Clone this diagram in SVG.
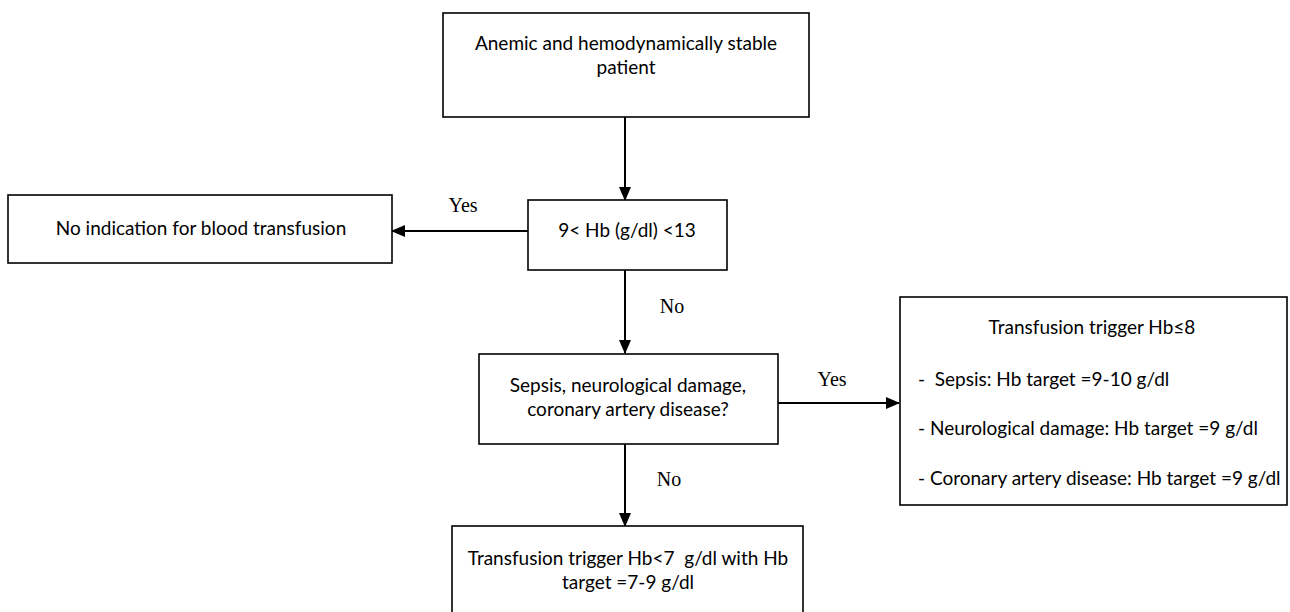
<svg xmlns="http://www.w3.org/2000/svg" width="1290" height="612" viewBox="0 0 1290 612">
<style>
.box{fill:#fff;stroke:#000;stroke-width:1.6}
.t{font-family:"Lato","Liberation Sans",sans-serif;font-size:19px;fill:#000;white-space:pre}
.c{text-anchor:middle}
.lbl{font-family:"Liberation Serif",serif;font-size:20px;fill:#000;text-anchor:middle}
.con{stroke:#000;stroke-width:2;fill:none}
</style>
<defs>
<marker id="ah" markerWidth="14" markerHeight="12" refX="13" refY="6" orient="auto" markerUnits="userSpaceOnUse">
<path d="M0,0 L14,6 L0,12 Z" fill="#000"/>
</marker>
</defs>
<rect width="1290" height="612" fill="#fff"/>
<g id="connectors">
<line class="con" x1="625" y1="117" x2="625" y2="200" marker-end="url(#ah)"/>
<line class="con" x1="528" y1="231" x2="392" y2="231" marker-end="url(#ah)"/>
<line class="con" x1="625" y1="270" x2="625" y2="353" marker-end="url(#ah)"/>
<line class="con" x1="778" y1="403" x2="899" y2="403" marker-end="url(#ah)"/>
<line class="con" x1="625" y1="444" x2="625" y2="526" marker-end="url(#ah)"/>
<text class="lbl" x="463" y="212">Yes</text>
<text class="lbl" x="672" y="313">No</text>
<text class="lbl" x="832" y="386">Yes</text>
<text class="lbl" x="669" y="486">No</text>
</g>
<g id="n1">
<rect class="box" x="443" y="13" width="366" height="104"/>
<text class="t c" x="626" y="50">Anemic and hemodynamically stable</text>
<text class="t c" x="626" y="74">patient</text>
</g>
<g id="n2">
<rect class="box" x="528" y="200" width="199" height="70"/>
<text class="t c" x="627" y="237">9&lt; Hb (g/dl) &lt;13</text>
</g>
<g id="n3">
<rect class="box" x="8" y="195" width="384" height="68"/>
<text class="t c" x="201" y="235">No indication for blood transfusion</text>
</g>
<g id="n4">
<rect class="box" x="479" y="354" width="299" height="90"/>
<text class="t c" x="628" y="392">Sepsis, neurological damage,</text>
<text class="t c" x="628" y="416">coronary artery disease?</text>
</g>
<g id="n5">
<rect class="box" x="900" y="297" width="387" height="208"/>
<text class="t c" x="1092" y="334">Transfusion trigger Hb≤8</text>
<text class="t" x="918" y="386">-  Sepsis: Hb target =9-10 g/dl</text>
<text class="t" x="918" y="435">- Neurological damage: Hb target =9 g/dl</text>
<text class="t" x="918" y="485">- Coronary artery disease: Hb target =9 g/dl</text>
</g>
<g id="n6">
<rect class="box" x="452" y="526" width="351" height="110"/>
<text class="t c" x="628" y="565">Transfusion trigger Hb&lt;7  g/dl with Hb</text>
<text class="t c" x="628" y="589">target =7-9 g/dl</text>
</g>
</svg>
